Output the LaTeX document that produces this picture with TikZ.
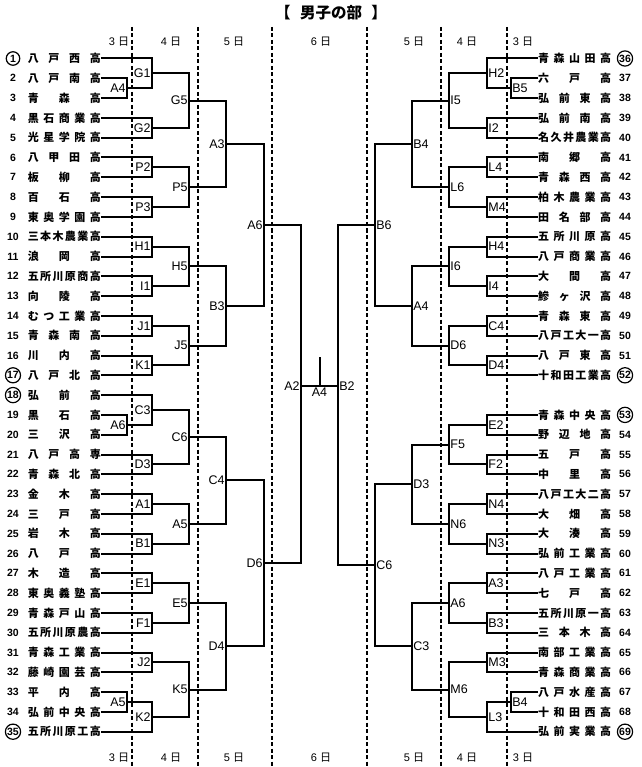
\documentclass[tikz,border=0pt]{standalone}
\usepackage{fontspec}
\usetikzlibrary{calc}
\setmainfont{Liberation Sans}
\newfontfamily\jpfont{Noto Sans CJK JP}

\newlength\namewd
\setlength\namewd{73pt}

\ExplSyntaxOn
\NewDocumentCommand \spreadname { m }
  {
    \tl_set:Nx \l_tmpa_tl { \tl_tail:n { #1 } }
    \makebox [ \namewd ] [ s ]
      {
        \jpfont \bfseries \tl_head:n { #1 }
        \tl_map_inline:Nn \l_tmpa_tl { \hfill ##1 }
      }
  }
\ExplSyntaxOff

\tikzset{
	bracket/.style={line width=2pt},
	dayline/.style={line width=1.5pt, dash pattern=on 4pt off 2.5pt},
	team/.style={inner sep=0pt, font=\fontsize{11}{12}\selectfont},
	num/.style={inner sep=0pt, font=\fontsize{10.5}{12}\selectfont\bfseries},
	seed/.style={num, circle, draw, line width=1.2pt, inner sep=0.5pt, minimum size=13.5pt},
	mlabel/.style={inner sep=1.2pt, font=\fontsize{12.5}{14}\selectfont},
	day/.style={inner sep=0pt, font=\fontsize{11}{13}\selectfont},
	title/.style={inner sep=0pt, font=\fontsize{15.5}{17}\selectfont\jpfont\bfseries},
}

% #1 point name, #2 label, #3 x of the bracket, #4 upper, #5 lower, #6 label anchor
\newcommand{\game}[6]{%
	\draw [bracket] (#4) -- (#4 -| #3, 0) -- (#5 -| #3, 0) -- (#5);
	\coordinate (#1) at ($(#4 -| #3, 0)!0.5!(#5 -| #3, 0)$);
	\node [mlabel, anchor=#6] (#1l) at (#1) {#2};
}

\begin{document}
\begin{tikzpicture}[x=1pt, y=-1pt]
	\useasboundingbox (0, 0) rectangle (641, 767);
	\node [title] (title) at (331, 13) {【\hspace{0.6em}男子の部\hspace{0.6em}】};

	\draw [dayline] (132, 27) -- (132, 767);
	\draw [dayline] (198, 27) -- (198, 767);
	\draw [dayline] (272, 27) -- (272, 767);
	\draw [dayline] (367, 27) -- (367, 767);
	\draw [dayline] (441, 27) -- (441, 767);
	\draw [dayline] (507, 27) -- (507, 767);

	\node [day] (h3l) at (119, 42) {3 {\jpfont 日}};
	\node [day] (h4l) at (171, 42) {4 {\jpfont 日}};
	\node [day] (h5l) at (234, 42) {5 {\jpfont 日}};
	\node [day] (h6) at (321, 42) {6 {\jpfont 日}};
	\node [day] (h5r) at (414, 42) {5 {\jpfont 日}};
	\node [day] (h4r) at (467, 42) {4 {\jpfont 日}};
	\node [day] (h3r) at (523, 42) {3 {\jpfont 日}};
	\node [day] (f3l) at (119, 758) {3 {\jpfont 日}};
	\node [day] (f4l) at (171, 758) {4 {\jpfont 日}};
	\node [day] (f5l) at (234, 758) {5 {\jpfont 日}};
	\node [day] (f6) at (321, 758) {6 {\jpfont 日}};
	\node [day] (f5r) at (414, 758) {5 {\jpfont 日}};
	\node [day] (f4r) at (467, 758) {4 {\jpfont 日}};
	\node [day] (f3r) at (523, 758) {3 {\jpfont 日}};

	\draw (13, 58.5) node [seed] (n1) {1} (101, 58.5) node [team, anchor=east] (t1) {\spreadname{八戸西高}};
	\draw (13, 78.3) node [num] (n2) {2} (101, 78.3) node [team, anchor=east] (t2) {\spreadname{八戸南高}};
	\draw (13, 98.1) node [num] (n3) {3} (101, 98.1) node [team, anchor=east] (t3) {\spreadname{青森高}};
	\draw (13, 117.9) node [num] (n4) {4} (101, 117.9) node [team, anchor=east] (t4) {\spreadname{黒石商業高}};
	\draw (13, 137.7) node [num] (n5) {5} (101, 137.7) node [team, anchor=east] (t5) {\spreadname{光星学院高}};
	\draw (13, 157.5) node [num] (n6) {6} (101, 157.5) node [team, anchor=east] (t6) {\spreadname{八甲田高}};
	\draw (13, 177.3) node [num] (n7) {7} (101, 177.3) node [team, anchor=east] (t7) {\spreadname{板柳高}};
	\draw (13, 197.1) node [num] (n8) {8} (101, 197.1) node [team, anchor=east] (t8) {\spreadname{百石高}};
	\draw (13, 216.9) node [num] (n9) {9} (101, 216.9) node [team, anchor=east] (t9) {\spreadname{東奥学園高}};
	\draw (13, 236.7) node [num] (n10) {10} (101, 236.7) node [team, anchor=east] (t10) {\spreadname{三本木農業高}};
	\draw (13, 256.5) node [num] (n11) {11} (101, 256.5) node [team, anchor=east] (t11) {\spreadname{浪岡高}};
	\draw (13, 276.3) node [num] (n12) {12} (101, 276.3) node [team, anchor=east] (t12) {\spreadname{五所川原商高}};
	\draw (13, 296.1) node [num] (n13) {13} (101, 296.1) node [team, anchor=east] (t13) {\spreadname{向陵高}};
	\draw (13, 315.9) node [num] (n14) {14} (101, 315.9) node [team, anchor=east] (t14) {\spreadname{むつ工業高}};
	\draw (13, 335.7) node [num] (n15) {15} (101, 335.7) node [team, anchor=east] (t15) {\spreadname{青森南高}};
	\draw (13, 355.5) node [num] (n16) {16} (101, 355.5) node [team, anchor=east] (t16) {\spreadname{川内高}};
	\draw (13, 375.3) node [seed] (n17) {17} (101, 375.3) node [team, anchor=east] (t17) {\spreadname{八戸北高}};
	\draw (13, 395.1) node [seed] (n18) {18} (101, 395.1) node [team, anchor=east] (t18) {\spreadname{弘前高}};
	\draw (13, 414.9) node [num] (n19) {19} (101, 414.9) node [team, anchor=east] (t19) {\spreadname{黒石高}};
	\draw (13, 434.7) node [num] (n20) {20} (101, 434.7) node [team, anchor=east] (t20) {\spreadname{三沢高}};
	\draw (13, 454.5) node [num] (n21) {21} (101, 454.5) node [team, anchor=east] (t21) {\spreadname{八戸高専}};
	\draw (13, 474.3) node [num] (n22) {22} (101, 474.3) node [team, anchor=east] (t22) {\spreadname{青森北高}};
	\draw (13, 494.1) node [num] (n23) {23} (101, 494.1) node [team, anchor=east] (t23) {\spreadname{金木高}};
	\draw (13, 513.9) node [num] (n24) {24} (101, 513.9) node [team, anchor=east] (t24) {\spreadname{三戸高}};
	\draw (13, 533.7) node [num] (n25) {25} (101, 533.7) node [team, anchor=east] (t25) {\spreadname{岩木高}};
	\draw (13, 553.5) node [num] (n26) {26} (101, 553.5) node [team, anchor=east] (t26) {\spreadname{八戸高}};
	\draw (13, 573.3) node [num] (n27) {27} (101, 573.3) node [team, anchor=east] (t27) {\spreadname{木造高}};
	\draw (13, 593.1) node [num] (n28) {28} (101, 593.1) node [team, anchor=east] (t28) {\spreadname{東奥義塾高}};
	\draw (13, 612.9) node [num] (n29) {29} (101, 612.9) node [team, anchor=east] (t29) {\spreadname{青森戸山高}};
	\draw (13, 632.7) node [num] (n30) {30} (101, 632.7) node [team, anchor=east] (t30) {\spreadname{五所川原農高}};
	\draw (13, 652.5) node [num] (n31) {31} (101, 652.5) node [team, anchor=east] (t31) {\spreadname{青森工業高}};
	\draw (13, 672.3) node [num] (n32) {32} (101, 672.3) node [team, anchor=east] (t32) {\spreadname{藤崎園芸高}};
	\draw (13, 692.1) node [num] (n33) {33} (101, 692.1) node [team, anchor=east] (t33) {\spreadname{平内高}};
	\draw (13, 711.9) node [num] (n34) {34} (101, 711.9) node [team, anchor=east] (t34) {\spreadname{弘前中央高}};
	\draw (13, 731.7) node [seed] (n35) {35} (101, 731.7) node [team, anchor=east] (t35) {\spreadname{五所川原工高}};

	\draw (625, 58.5) node [seed] (n36) {36} (538, 58.5) node [team, anchor=west] (t36) {\spreadname{青森山田高}};
	\draw (625, 78.3) node [num] (n37) {37} (538, 78.3) node [team, anchor=west] (t37) {\spreadname{六戸高}};
	\draw (625, 98.1) node [num] (n38) {38} (538, 98.1) node [team, anchor=west] (t38) {\spreadname{弘前東高}};
	\draw (625, 117.9) node [num] (n39) {39} (538, 117.9) node [team, anchor=west] (t39) {\spreadname{弘前南高}};
	\draw (625, 137.7) node [num] (n40) {40} (538, 137.7) node [team, anchor=west] (t40) {\spreadname{名久井農業高}};
	\draw (625, 157.5) node [num] (n41) {41} (538, 157.5) node [team, anchor=west] (t41) {\spreadname{南郷高}};
	\draw (625, 177.3) node [num] (n42) {42} (538, 177.3) node [team, anchor=west] (t42) {\spreadname{青森西高}};
	\draw (625, 197.1) node [num] (n43) {43} (538, 197.1) node [team, anchor=west] (t43) {\spreadname{柏木農業高}};
	\draw (625, 216.9) node [num] (n44) {44} (538, 216.9) node [team, anchor=west] (t44) {\spreadname{田名部高}};
	\draw (625, 236.7) node [num] (n45) {45} (538, 236.7) node [team, anchor=west] (t45) {\spreadname{五所川原高}};
	\draw (625, 256.5) node [num] (n46) {46} (538, 256.5) node [team, anchor=west] (t46) {\spreadname{八戸商業高}};
	\draw (625, 276.3) node [num] (n47) {47} (538, 276.3) node [team, anchor=west] (t47) {\spreadname{大間高}};
	\draw (625, 296.1) node [num] (n48) {48} (538, 296.1) node [team, anchor=west] (t48) {\spreadname{鰺ヶ沢高}};
	\draw (625, 315.9) node [num] (n49) {49} (538, 315.9) node [team, anchor=west] (t49) {\spreadname{青森東高}};
	\draw (625, 335.7) node [num] (n50) {50} (538, 335.7) node [team, anchor=west] (t50) {\spreadname{八戸工大一高}};
	\draw (625, 355.5) node [num] (n51) {51} (538, 355.5) node [team, anchor=west] (t51) {\spreadname{八戸東高}};
	\draw (625, 375.3) node [seed] (n52) {52} (538, 375.3) node [team, anchor=west] (t52) {\spreadname{十和田工業高}};
	\draw (625, 414.9) node [seed] (n53) {53} (538, 414.9) node [team, anchor=west] (t53) {\spreadname{青森中央高}};
	\draw (625, 434.7) node [num] (n54) {54} (538, 434.7) node [team, anchor=west] (t54) {\spreadname{野辺地高}};
	\draw (625, 454.5) node [num] (n55) {55} (538, 454.5) node [team, anchor=west] (t55) {\spreadname{五戸高}};
	\draw (625, 474.3) node [num] (n56) {56} (538, 474.3) node [team, anchor=west] (t56) {\spreadname{中里高}};
	\draw (625, 494.1) node [num] (n57) {57} (538, 494.1) node [team, anchor=west] (t57) {\spreadname{八戸工大二高}};
	\draw (625, 513.9) node [num] (n58) {58} (538, 513.9) node [team, anchor=west] (t58) {\spreadname{大畑高}};
	\draw (625, 533.7) node [num] (n59) {59} (538, 533.7) node [team, anchor=west] (t59) {\spreadname{大湊高}};
	\draw (625, 553.5) node [num] (n60) {60} (538, 553.5) node [team, anchor=west] (t60) {\spreadname{弘前工業高}};
	\draw (625, 573.3) node [num] (n61) {61} (538, 573.3) node [team, anchor=west] (t61) {\spreadname{八戸工業高}};
	\draw (625, 593.1) node [num] (n62) {62} (538, 593.1) node [team, anchor=west] (t62) {\spreadname{七戸高}};
	\draw (625, 612.9) node [num] (n63) {63} (538, 612.9) node [team, anchor=west] (t63) {\spreadname{五所川原一高}};
	\draw (625, 632.7) node [num] (n64) {64} (538, 632.7) node [team, anchor=west] (t64) {\spreadname{三本木高}};
	\draw (625, 652.5) node [num] (n65) {65} (538, 652.5) node [team, anchor=west] (t65) {\spreadname{南部工業高}};
	\draw (625, 672.3) node [num] (n66) {66} (538, 672.3) node [team, anchor=west] (t66) {\spreadname{青森商業高}};
	\draw (625, 692.1) node [num] (n67) {67} (538, 692.1) node [team, anchor=west] (t67) {\spreadname{八戸水産高}};
	\draw (625, 711.9) node [num] (n68) {68} (538, 711.9) node [team, anchor=west] (t68) {\spreadname{十和田西高}};
	\draw (625, 731.7) node [seed] (n69) {69} (538, 731.7) node [team, anchor=west] (t69) {\spreadname{弘前実業高}};

	\game{lpA4}{A4}{127}{t2}{t3}{east}
	\game{lpA6}{A6}{127}{t19}{t20}{east}
	\game{lpA5}{A5}{127}{t33}{t34}{east}
	\game{lG1}{G1}{152}{t1}{lpA4}{east}
	\game{lG2}{G2}{152}{t4}{t5}{east}
	\game{lP2}{P2}{152}{t6}{t7}{east}
	\game{lP3}{P3}{152}{t8}{t9}{east}
	\game{lH1}{H1}{152}{t10}{t11}{east}
	\game{lI1}{I1}{152}{t12}{t13}{east}
	\game{lJ1}{J1}{152}{t14}{t15}{east}
	\game{lK1}{K1}{152}{t16}{t17}{east}
	\game{lC3}{C3}{152}{t18}{lpA6}{east}
	\game{lD3}{D3}{152}{t21}{t22}{east}
	\game{lA1}{A1}{152}{t23}{t24}{east}
	\game{lB1}{B1}{152}{t25}{t26}{east}
	\game{lE1}{E1}{152}{t27}{t28}{east}
	\game{lF1}{F1}{152}{t29}{t30}{east}
	\game{lJ2}{J2}{152}{t31}{t32}{east}
	\game{lK2}{K2}{152}{lpA5}{t35}{east}
	\game{lG5}{G5}{189}{lG1}{lG2}{east}
	\game{lP5}{P5}{189}{lP2}{lP3}{east}
	\game{lH5}{H5}{189}{lH1}{lI1}{east}
	\game{lJ5}{J5}{189}{lJ1}{lK1}{east}
	\game{lC6}{C6}{189}{lC3}{lD3}{east}
	\game{lA5}{A5}{189}{lA1}{lB1}{east}
	\game{lE5}{E5}{189}{lE1}{lF1}{east}
	\game{lK5}{K5}{189}{lJ2}{lK2}{east}
	\game{lA3}{A3}{226}{lG5}{lP5}{east}
	\game{lB3}{B3}{226}{lH5}{lJ5}{east}
	\game{lC4}{C4}{226}{lC6}{lA5}{east}
	\game{lD4}{D4}{226}{lE5}{lK5}{east}
	\game{lA6}{A6}{264}{lA3}{lB3}{east}
	\game{lD6}{D6}{264}{lC4}{lD4}{east}

	\game{rpB5}{B5}{511}{t37}{t38}{west}
	\game{rpB4}{B4}{511}{t67}{t68}{west}
	\game{rH2}{H2}{487}{t36}{rpB5}{west}
	\game{rI2}{I2}{487}{t39}{t40}{west}
	\game{rL4}{L4}{487}{t41}{t42}{west}
	\game{rM4}{M4}{487}{t43}{t44}{west}
	\game{rH4}{H4}{487}{t45}{t46}{west}
	\game{rI4}{I4}{487}{t47}{t48}{west}
	\game{rC4}{C4}{487}{t49}{t50}{west}
	\game{rD4}{D4}{487}{t51}{t52}{west}
	\game{rE2}{E2}{487}{t53}{t54}{west}
	\game{rF2}{F2}{487}{t55}{t56}{west}
	\game{rN4}{N4}{487}{t57}{t58}{west}
	\game{rN3}{N3}{487}{t59}{t60}{west}
	\game{rA3}{A3}{487}{t61}{t62}{west}
	\game{rB3}{B3}{487}{t63}{t64}{west}
	\game{rM3}{M3}{487}{t65}{t66}{west}
	\game{rL3}{L3}{487}{rpB4}{t69}{west}
	\game{rI5}{I5}{449}{rH2}{rI2}{west}
	\game{rL6}{L6}{449}{rL4}{rM4}{west}
	\game{rI6}{I6}{449}{rH4}{rI4}{west}
	\game{rD6}{D6}{449}{rC4}{rD4}{west}
	\game{rF5}{F5}{449}{rE2}{rF2}{west}
	\game{rN6}{N6}{449}{rN4}{rN3}{west}
	\game{rA6}{A6}{449}{rA3}{rB3}{west}
	\game{rM6}{M6}{449}{rM3}{rL3}{west}
	\game{rB4}{B4}{412}{rI5}{rL6}{west}
	\game{rA4}{A4}{412}{rI6}{rD6}{west}
	\game{rD3}{D3}{412}{rF5}{rN6}{west}
	\game{rC3}{C3}{412}{rA6}{rM6}{west}
	\game{rB6}{B6}{375}{rB4}{rA4}{west}
	\game{rC6}{C6}{375}{rD3}{rC3}{west}

	\coordinate (a2) at (301, 386);
	\coordinate (b2) at (338, 386);
	\coordinate (win) at (319.5, 357);
	\draw [bracket] (lA6) -| (a2) |- (lD6);
	\draw [bracket] (rB6) -| (b2) |- (rC6);
	\draw [bracket] (a2) -- (b2);
	\draw [bracket] (win) -- (win |- a2);
	\node [mlabel, anchor=east] (a2l) at (a2) {A2};
	\node [mlabel, anchor=west] (b2l) at (b2) {B2};
	\node [mlabel, anchor=north] (a4l) at (win |- a2) {A4};
\end{tikzpicture}
\end{document}
